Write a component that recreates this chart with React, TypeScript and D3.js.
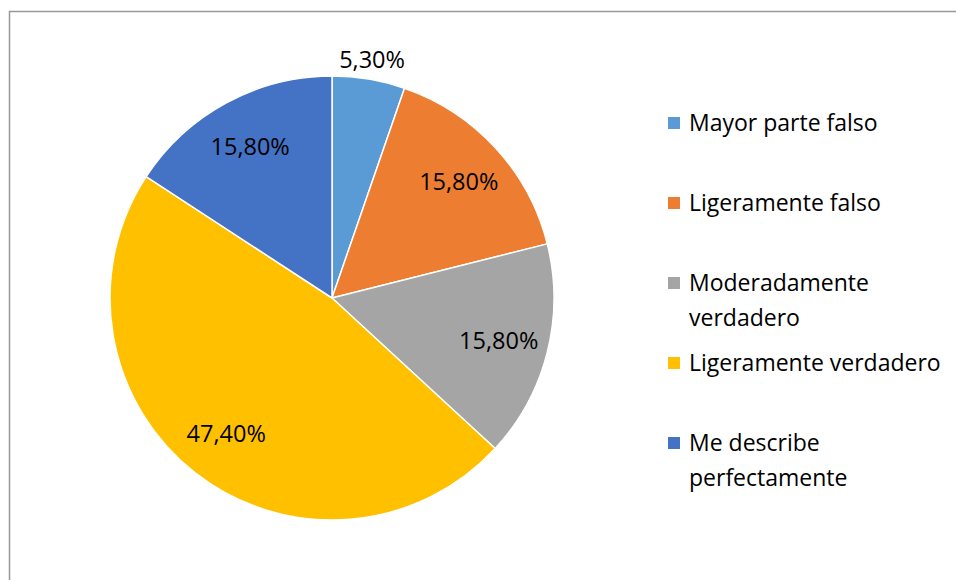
import React, { useEffect, useRef } from 'react';
import * as d3 from 'd3';

const categories = [
  'Mayor parte falso',
  'Ligeramente falso',
  'Moderadamente verdadero',
  'Ligeramente verdadero',
  'Me describe perfectamente',
];
// legend text wrapped as in the original
const legendLines = [
  ['Mayor parte falso'],
  ['Ligeramente falso'],
  ['Moderadamente', 'verdadero'],
  ['Ligeramente verdadero'],
  ['Me describe', 'perfectamente'],
];
const values = [5.3, 15.8, 15.8, 47.4, 15.8];
const labels = ['5,30%', '15,80%', '15,80%', '47,40%', '15,80%'];
const colors = ['#5B9BD5', '#ED7D31', '#A5A5A5', '#FFC000', '#4472C4'];

const width = 956;
const height = 580;
const font = '"Open Sans", "Noto Sans", sans-serif';

const App = () => {
  const svgRef = useRef<SVGSVGElement | null>(null);

  useEffect(() => {
    const svg = d3.select(svgRef.current);
    svg.selectAll('*').remove();

    // chart frame (only top/left edges fall inside the picture)
    svg.append('rect')
      .attr('x', 9.5)
      .attr('y', 11.5)
      .attr('width', 980)
      .attr('height', 620)
      .attr('fill', 'white')
      .attr('stroke', '#999')
      .attr('stroke-width', 1.5);

    const cx = 332;
    const cy = 298;
    const radius = 222;

    const pie = d3.pie<number>().sort(null).value(d => d);
    const arcs = pie(values);

    const arc = d3.arc<d3.PieArcDatum<number>>()
      .innerRadius(0)
      .outerRadius(radius);

    const g = svg.append('g').attr('transform', `translate(${cx},${cy})`);

    g.selectAll('path.slice')
      .data(arcs)
      .enter().append('path')
      .attr('class', 'slice')
      .attr('d', arc)
      .attr('fill', (d, i) => colors[i])
      .attr('stroke', 'white')
      .attr('stroke-width', 1.5)
      .attr('stroke-linejoin', 'round');

    // inside labels at a fixed radius, small slices pushed outside
    const inner = d3.arc<d3.PieArcDatum<number>>().innerRadius(172).outerRadius(172);
    const outer = d3.arc<d3.PieArcDatum<number>>().innerRadius(radius + 20).outerRadius(radius + 20);

    g.selectAll('text.lbl')
      .data(arcs)
      .enter().append('text')
      .attr('class', 'lbl')
      .attr('transform', d => {
        const c = d.data < 10 ? outer.centroid(d) : inner.centroid(d);
        return `translate(${c[0]},${c[1]})`;
      })
      .attr('text-anchor', 'middle')
      .attr('dy', '0.36em')
      .style('font-family', font)
      .style('font-size', '23.5px')
      .style('fill', '#000')
      .text((d, i) => labels[i]);

    // legend
    const legend = svg.append('g').attr('transform', 'translate(668,123)');
    const rowStep = 80;
    const lineStep = 35;

    const items = legend.selectAll('g.item')
      .data(categories)
      .enter().append('g')
      .attr('class', 'item')
      .attr('transform', (d, i) => `translate(0,${i * rowStep})`);

    items.append('rect')
      .attr('x', 0)
      .attr('y', -6)
      .attr('width', 12)
      .attr('height', 12)
      .attr('fill', (d, i) => colors[i]);

    items.each(function (d, i) {
      const t = d3.select(this).append('text')
        .attr('x', 21)
        .attr('y', 0)
        .style('font-family', font)
        .style('font-size', '23px')
        .style('fill', '#000');
      legendLines[i].forEach((line, j) => {
        t.append('tspan')
          .attr('x', 21)
          .attr('y', j * lineStep)
          .attr('dy', '0.36em')
          .text(line);
      });
    });
  }, []);

  return (
    <div>
      <style>{'body{margin:0;background:#fff}'}</style>
      <svg ref={svgRef} width={width} height={height} style={{ display: 'block' }}></svg>
    </div>
  );
};

export default App;
